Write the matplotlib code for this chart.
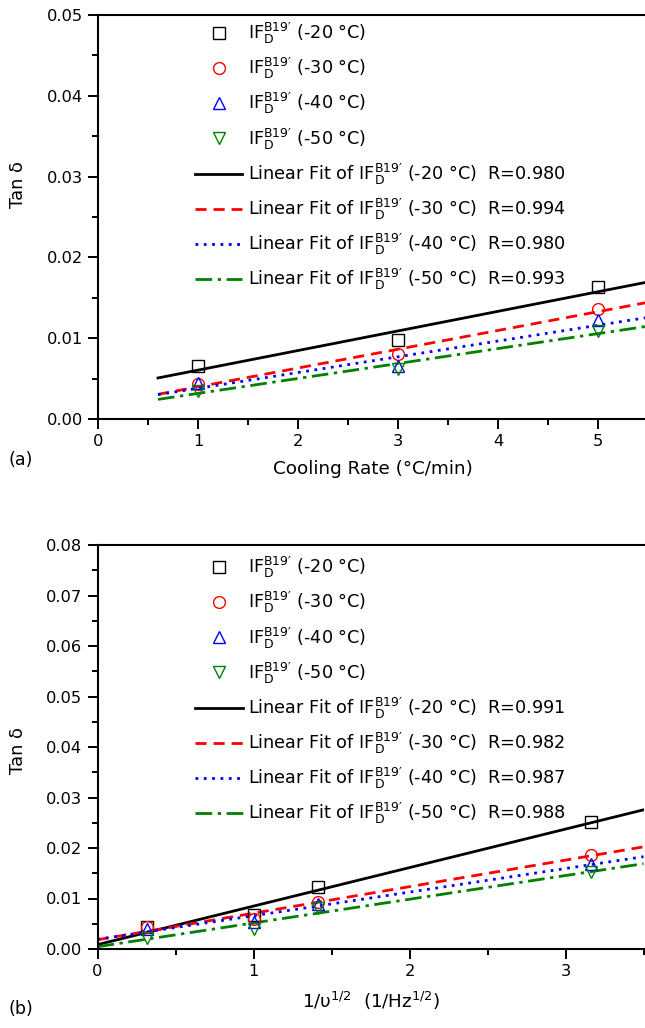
import numpy as np
import matplotlib
matplotlib.use("Agg")
import matplotlib.pyplot as plt
from matplotlib.lines import Line2D
from matplotlib.ticker import MultipleLocator, FormatStrFormatter

plt.rcParams['font.family'] = ['DejaVu Sans']
plt.rcParams['mathtext.fontset'] = 'dejavusans'

# ---------------- data ----------------
temps = ["-20", "-30", "-40", "-50"]
colors = ["black", "red", "blue", "green"]
markers = ["s", "o", "^", "v"]
fit_styles = ["-", (0, (4, 2.5)), (0, (1, 2)), (0, (6, 2, 1.2, 2))]

# (a) tan delta vs cooling rate
rate_a = [1, 3, 5]
tan_a_m20 = [0.0066, 0.0098, 0.0163]
tan_a_m30 = [0.0043, 0.0080, 0.0136]
tan_a_m40 = [0.0044, 0.0065, 0.0122]
tan_a_m50 = [0.0035, 0.0062, 0.0109]
R_a = ["0.980", "0.994", "0.980", "0.993"]
fit_span_a = [0.6, 5.5]

# (b) tan delta vs 1/sqrt(frequency)
invsqrtf_b = [0.316, 1.0, 1.414, 3.162]
tan_b_m20 = [0.0043, 0.0067, 0.0122, 0.0252]
tan_b_m30 = [0.0043, 0.0060, 0.0093, 0.0187]
tan_b_m40 = [0.0040, 0.0054, 0.0090, 0.0168]
tan_b_m50 = [0.0022, 0.0040, 0.0081, 0.0152]
R_b = ["0.991", "0.982", "0.987", "0.988"]
fit_span_b = [0.0, 3.5]

W, H = 645, 1028
fig = plt.figure(figsize=(W / 100, H / 100), dpi=100)

def px_axes(left, right, top, bottom):
    return fig.add_axes([left / W, 1 - bottom / H, (right - left) / W, (bottom - top) / H])

def style_axes(ax, xmax, ymax):
    ax.set_xlim(0, xmax)
    ax.set_ylim(0, ymax)
    ax.spines['right'].set_visible(False)
    for s in ['left', 'bottom', 'top']:
        ax.spines[s].set_linewidth(1.5)
    ax.xaxis.set_major_locator(MultipleLocator(1))
    ax.xaxis.set_minor_locator(MultipleLocator(0.5))
    ax.yaxis.set_major_locator(MultipleLocator(0.01))
    ax.yaxis.set_minor_locator(MultipleLocator(0.005))
    ax.yaxis.set_major_formatter(FormatStrFormatter('%.2f'))
    ax.tick_params(which='both', direction='out', top=False, right=False, width=1.4,
                   labelsize=11.7)
    ax.tick_params(which='major', length=7, pad=4)
    ax.tick_params(which='minor', length=4)

def lab(t):
    return "IF$_\\mathregular{D}^\\mathregular{B19\u2032}$ (" + t + " °C)"

def draw_panel(ax, x, series, R, span, legend_anchor):
    handles, labels = [], []
    for i, y in enumerate(series):
        ax.plot(x, y, linestyle='none', marker=markers[i], ms=8.5, mfc='none',
                mec=colors[i], mew=1.0, zorder=3)
        handles.append(Line2D([], [], linestyle='none', marker=markers[i], ms=8.5,
                              mfc='none', mec=colors[i], mew=1.0))
        labels.append(lab(temps[i]))
    for i, y in enumerate(series):
        k, b = np.polyfit(x, y, 1)
        xf = np.array(span)
        ax.plot(xf, k * xf + b, color=colors[i], linestyle=fit_styles[i], lw=2.0,
                zorder=2)
        handles.append(Line2D([], [], color=colors[i], linestyle=fit_styles[i], lw=2.0))
        labels.append("Linear Fit of " + lab(temps[i]) + "  R=" + R[i])
    ax.legend(handles, labels, loc='upper left', bbox_to_anchor=legend_anchor,
              frameon=False, fontsize=12.7, handlelength=2.7, handletextpad=0.3,
              labelspacing=0.57, borderpad=0, borderaxespad=0)

# panel (a)
axa = px_axes(98, 648, 15, 419)
style_axes(axa, 5.5, 0.05)
draw_panel(axa, rate_a, [tan_a_m20, tan_a_m30, tan_a_m40, tan_a_m50], R_a,
           fit_span_a, (0.176, 0.985))
axa.set_xlabel("Cooling Rate (°C/min)", fontsize=13.2, labelpad=8)
axa.set_ylabel("Tan δ", fontsize=12.8)
axa.yaxis.set_label_coords(-0.13, 0.58)
fig.text(8 / W, 1 - 460 / H, "(a)", fontsize=12.6, va='center', ha='left')

# panel (b)
axb = px_axes(97.5, 643.5, 545, 949)
style_axes(axb, 3.5, 0.08)
draw_panel(axb, invsqrtf_b, [tan_b_m20, tan_b_m30, tan_b_m40, tan_b_m50], R_b,
           fit_span_b, (0.179, 0.975))
axb.set_xlabel("1/υ$^\\mathregular{1/2}$  (1/Hz$^\\mathregular{1/2}$)", fontsize=13.2,
               labelpad=8)
axb.set_ylabel("Tan δ", fontsize=12.8)
axb.yaxis.set_label_coords(-0.13, 0.49)
fig.text(8 / W, 1 - 1009 / H, "(b)", fontsize=12.6, va='center', ha='left')

fig.savefig("out.png", dpi=100)
